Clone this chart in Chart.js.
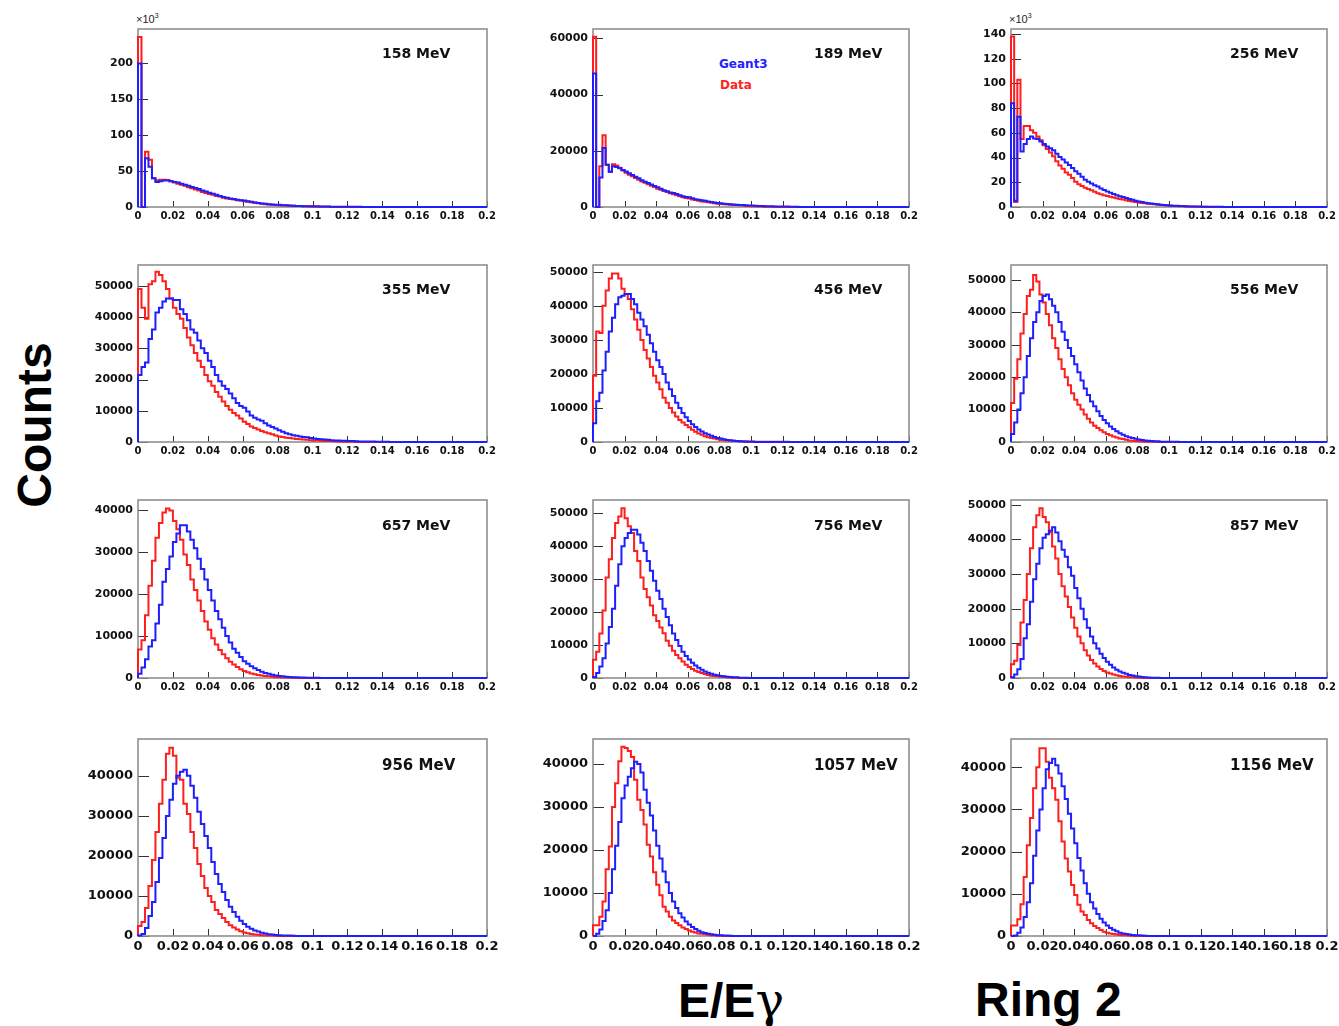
<!DOCTYPE html>
<html><head><meta charset="utf-8">
<script src="https://cdn.jsdelivr.net/npm/chart.js@4.4.1/dist/chart.umd.min.js"></script>
<style>
html,body{margin:0;padding:0;background:#fff;}
#page{position:relative;width:1339px;height:1026px;overflow:hidden;background:#fff;}
canvas{position:absolute;}
.lbl{position:absolute;font-family:'DejaVu Sans',sans-serif;font-weight:bold;color:#111;white-space:nowrap;line-height:1;}
.big{position:absolute;font-family:'Liberation Sans',Arial,sans-serif;font-weight:bold;color:#000;white-space:nowrap;line-height:1;font-size:48px;}
.greek{font-family:'DejaVu Serif',serif;font-weight:normal;}
.exp{position:absolute;font-family:'Liberation Sans',Arial,sans-serif;font-size:11px;color:#222;line-height:1;white-space:nowrap;}
.exp sup{font-size:7px;vertical-align:top;position:relative;top:-2px;}
</style></head>
<body><div id="page">
<div class="big" id="counts" style="left:35px;top:425px;transform:translate(-50%,-50%) rotate(-90deg);">Counts</div>
<div class="big" id="xtitle" style="left:678px;top:976px;">E/E<span class="greek">γ</span></div>
<div class="big" id="ring" style="left:975px;top:976px;">Ring 2</div>
<div class="lbl" style="left:719px;top:58px;font-size:12px;color:#2323ff;">Geant3</div>
<div class="lbl" style="left:720px;top:79px;font-size:12px;color:#ff2323;">Data</div>
<div class="exp" style="left:136px;top:14px;">×10<sup>3</sup></div>
<div class="exp" style="left:1009px;top:14px;">×10<sup>3</sup></div>
</div>
<script>
// ---------------- data ----------------
const BIN_WIDTH = 0.002;
const X_MAX = 0.2;
const xTickValues = [0, 0.02, 0.04, 0.06, 0.08, 0.1, 0.12, 0.14, 0.16, 0.18, 0.2];
const energyLabels = ['158 MeV','189 MeV','256 MeV','355 MeV','456 MeV','556 MeV','657 MeV','756 MeV','857 MeV','956 MeV','1057 MeV','1156 MeV'];

// units: x10^3 counts for 158 and 256 MeV, counts otherwise
const data158 = [237,0,77,66,40,37,38,38,37.5,36,34,32.5,31,29.5,27.5,26,24.5,23,21,19.5,18,17,15.5,14.5,13,12,11,10.5,9.5,9,8,7.3,6.6,5.8,5.2,4.5,4,3.6,3.2,2.8,2.5,2.3,2.1,1.9,1.7,1.5,1.3,1.1,0.9,0.7,0.5,0.4,0.3,0.25,0.2,0.15,0.1,0.1,0.05,0];
const g3_158 = [200,0,68,56,40,35,36,37,37,36,35,34,32.5,31,29.5,28,26.5,25,23,21.5,20,18.5,17,15.5,14,13,12,11,10.2,9.5,9,8,7.2,6.4,5.7,5,4.4,3.9,3.5,3.2,3,2.6,2.3,2,1.7,1.5,1.3,1.2,1.1,1,1,0.9,0.8,0.7,0.6,0.5,0.4,0.35,0.3,0.3,0.3,0.25,0.2,0.2,0.1,0];

const data189 = [60500,0,14500,25500,15000,12500,15200,14800,14000,13000,12200,11500,10900,10300,9700,9100,8600,8100,7600,7100,6500,6100,5700,5300,4900,4500,4200,3800,3500,3200,3000,2700,2500,2200,2000,1900,1700,1500,1300,1200,1100,1000,900,800,750,700,600,500,400,350,300,250,200,150,100,80,60,50,40,30,20,0];
const g3_189 = [47500,0,10500,21000,15000,12500,14500,14200,13800,13200,12600,12000,11400,10800,10200,9500,9000,8500,8000,7500,7000,6500,6000,5600,5200,5000,4600,4200,3800,3600,3500,3100,2800,2600,2400,2200,2000,1800,1600,1400,1300,1200,1100,1000,900,800,750,700,600,550,500,450,400,350,300,300,250,200,200,200,150,150,100,100,80,0];

const data256 = [138,4,103,55,65.5,65.5,62,60,57,54,50,47,44,41,37,33.5,31,28,26,23.5,20.5,18.5,17,15.5,14.5,13.5,12.3,11.2,10.4,9.6,9,8.3,7.6,7,6.4,6,5.4,4.9,4.4,4,3.7,3.3,3,2.6,2.4,2.2,1.9,1.6,1.4,1.2,1,0.9,0.8,0.7,0.6,0.5,0.4,0.35,0.3,0.25,0.2,0.15,0.1,0.1,0.05,0];
const g3_256 = [84,5,73,45,51,55,57,55.5,55,53,51,49,47.5,46,43,40.5,38.5,36,34,31.5,29,27,24.5,22,20.5,19,17.5,16.5,15,13.8,12.5,11.5,10.5,9.5,8.7,8,7.2,6.5,5.8,5.1,4.5,4,3.5,3.1,2.8,2.5,2.2,1.9,1.7,1.5,1.3,1.1,1,0.9,0.8,0.6,0.5,0.45,0.4,0.35,0.3,0.3,0.25,0.2,0.2,0.2,0.15,0.1,0];

const data355 = [49000,43000,39500,50500,51500,54500,53500,51500,49000,46000,43000,41000,39500,36500,33500,31000,28500,26000,24000,21500,19500,18000,16000,14500,13000,11500,10300,9300,8500,7500,6500,5800,5000,4500,4000,3500,3100,2800,2500,2100,1800,1600,1400,1300,1100,1000,900,800,700,600,500,450,400,350,300,300,250,200,150,100,100,100,50,0];
const g3_355 = [21500,24000,25500,33000,36000,41500,43000,45000,46000,46000,45500,45500,42500,41000,39000,36000,35000,32500,30000,28500,26000,24000,21500,19500,18000,17000,15500,14000,12500,11500,11000,9800,8500,7800,7200,6800,6000,5300,4800,4300,3800,3300,2800,2500,2200,2000,1800,1600,1500,1300,1100,1000,900,800,700,600,500,450,400,400,350,300,250,200,200,200,150,150,100,100,100,50,0];

const data456 = [19500,32500,32000,40000,44500,48000,49500,49500,48000,45000,43500,42000,39000,36000,33000,30000,27000,24500,22000,19500,17500,15500,13000,11500,10000,8700,7500,6500,5700,5000,4300,3600,3000,2500,2100,1700,1400,1200,1000,800,600,500,450,400,350,300,250,200,200,150,150,100,100,100,100,80,60,50,50,50,100,50,0];
const g3_456 = [5500,12000,14500,21000,26500,32500,36500,40500,42500,43000,43500,43500,42000,40500,38000,36000,34000,31500,29000,26500,24000,22000,20000,17500,15500,13500,11500,10000,8500,7300,6200,5200,4400,3700,3100,2600,2200,1800,1500,1200,1000,800,600,500,400,300,200,150,100,100,50,0];

const data556 = [12000,19500,25500,33500,39500,45000,47000,51500,49500,45500,43000,39500,36000,32000,29000,25500,22500,20000,17500,15000,13000,11500,10000,8500,7200,6000,5000,4300,3600,3000,2500,2100,1700,1400,1100,900,700,500,400,300,200,150,100,100,50,50,0];
const g3_556 = [2500,6000,10000,15000,20000,26500,32000,37000,40000,43500,45000,45500,44000,42000,40000,37000,34000,31500,29000,26500,24000,21500,19000,16500,14500,12500,11000,9500,8000,6800,5800,4800,4000,3300,2700,2200,1800,1500,1200,1000,800,600,500,400,300,200,200,100,100,100,50,50,50,0];

const data657 = [6800,9000,15000,22000,28000,33500,37000,39500,40500,40000,37500,35500,33000,29500,27000,23500,21000,18500,16000,13500,11500,9500,8000,6700,5700,4700,3900,3200,2600,2100,1700,1400,1100,900,700,600,500,400,300,200,150,100,100,50,50,0];
const g3_657 = [1000,2500,4500,7500,9000,13000,17500,23000,26000,29000,32500,34500,36500,36500,35000,33000,31000,28500,26000,23500,21000,18500,16000,14000,12000,10000,8500,7000,6000,5000,4000,3400,2800,2300,1900,1500,1200,1000,800,600,500,400,300,250,200,150,100,100,50,50,50,50,0];

const data756 = [5500,8000,13500,20500,30500,36000,42500,47000,49000,51500,48500,46000,44000,38500,35500,30500,27000,24500,22000,19000,17300,15300,13600,11300,9800,8300,7000,6000,5000,4000,3300,2700,2200,1800,1500,1200,900,700,600,500,400,300,200,150,100,50,0];
const g3_756 = [300,1500,3500,6000,10500,15500,21000,28000,34500,40000,42500,44000,45000,45000,43500,41000,38500,35500,32500,29500,26500,24000,21000,18500,16000,13500,11500,9700,8000,6700,5600,4600,3800,3100,2500,2000,1600,1300,1000,800,600,500,400,300,200,200,100,100,50,0];

const data857 = [4000,5000,9500,16000,22500,30000,37500,43500,47000,49000,46500,45000,42000,38000,34500,30000,26500,23500,20500,17500,14500,12000,10000,8000,6500,5200,4200,3300,2600,2000,1600,1300,1000,800,600,450,350,250,200,150,100,50,0];
const g3_857 = [200,1000,2500,5500,11500,15500,22000,28500,33000,37500,40500,41500,42500,43500,42000,39500,37000,35000,32000,29500,26000,23000,20000,17000,14500,12000,10000,8500,7000,5800,4700,3800,3000,2400,1900,1500,1200,900,700,500,400,300,200,150,100,100,50,0];

const data956 = [2500,3500,7000,12500,19000,26000,33000,39000,45500,47000,45000,39500,39000,33000,30500,26000,22000,18000,15000,12000,10000,8500,6500,5500,4500,3500,2700,2100,1600,1200,900,700,500,400,300,200,150,100,100,50,0];
const g3_956 = [100,500,2000,5000,8500,13500,19500,24500,30000,34000,38000,40000,41000,41500,40000,37500,34500,31000,28000,25000,22000,18500,15500,13000,11000,9000,7300,6000,4800,3800,3000,2300,1800,1400,1100,800,600,450,350,250,200,150,100,100,50,0];

const data1057 = [2500,2500,4500,8000,15500,20800,30000,35500,40600,44000,43700,43000,41600,36300,31700,29300,25900,21200,18500,14800,11900,9500,6800,5700,4500,3600,3000,2500,2000,1600,1300,1000,800,600,500,400,300,200,150,100,50,0];
const g3_1057 = [0,500,1500,3500,6000,10000,15500,21000,26500,32000,35000,37000,39000,40500,40000,38000,34000,31000,28000,24500,21000,18000,15000,12500,10000,8000,6500,5300,4300,3400,2700,2100,1600,1200,900,700,500,400,300,200,150,100,100,50,0];

const data1156 = [2500,2500,4000,7500,14000,21500,28000,35000,40000,44500,44500,41300,37500,35000,32300,27200,22400,18400,15300,12100,9700,7400,5800,5000,3800,3000,2400,1900,1400,1000,800,600,450,350,250,200,150,100,50,0];
const g3_1156 = [0,100,800,2000,4500,8000,12500,19000,25000,30000,35000,39500,41000,42000,40500,38500,35500,32500,29000,25500,22000,18500,15500,12500,10000,8000,6500,5200,4100,3200,2500,1900,1500,1100,800,600,450,350,250,200,150,100,50,0];

const yMaxes = [248, 63300, 144, 56700, 52000, 54600, 42500, 54000, 51400, 49200, 45800, 46700];
const yTicks158 = [0, 50, 100, 150, 200];
const yTicks189 = [0, 20000, 40000, 60000];
const yTicks256 = [0, 20, 40, 60, 80, 100, 120, 140];
const yTicks10k = [0, 10000, 20000, 30000, 40000, 50000];

const dataSeries = [data158, data189, data256, data355, data456, data556, data657, data756, data857, data956, data1057, data1156];
const geantSeries = [g3_158, g3_189, g3_256, g3_355, g3_456, g3_556, g3_657, g3_756, g3_857, g3_956, g3_1057, g3_1156];
const yTickSets = [yTicks158, yTicks189, yTicks256, yTicks10k, yTicks10k, yTicks10k, yTicks10k, yTicks10k, yTicks10k, yTicks10k, yTicks10k, yTicks10k];

// ---------------- layout / style ----------------
const colFrames = [[138, 487], [593, 909], [1011, 1327]];
const rowFrames = [[29, 207], [265, 442], [500, 678], [739, 936]];
const labelLeft = [382, 814, 1230];
const labelBaseline = [58, 294, 530, 771];
const RED = '#ff1e1e', BLUE = '#1e1eff';
const FONT = "'DejaVu Sans', sans-serif";

function histPoints(values) {
  const pts = [{x: 0, y: 0}];
  values.forEach((v, i) => pts.push({x: i * BIN_WIDTH, y: v}));
  pts.push({x: X_MAX, y: values[values.length - 1]});
  return pts;
}

const frameTicks = {
  id: 'frameTicks',
  beforeDatasetsDraw(chart, args, opts) {
    const {ctx, chartArea: a, scales: {x, y}} = chart;
    ctx.save();
    ctx.strokeStyle = '#333';
    ctx.lineWidth = 1;
    ctx.beginPath();
    x.ticks.forEach(t => {
      const px = Math.round(x.getPixelForValue(t.value)) + 0.5;
      ctx.moveTo(px, a.bottom); ctx.lineTo(px, a.bottom - opts.xLen);
    });
    y.ticks.forEach(t => {
      const py = Math.round(y.getPixelForValue(t.value)) + 0.5;
      ctx.moveTo(a.left, py); ctx.lineTo(a.left + opts.yLen, py);
    });
    ctx.stroke();
    ctx.strokeStyle = '#8f8f8f';
    ctx.lineWidth = 1.6;
    ctx.strokeRect(a.left, a.top, a.right - a.left, a.bottom - a.top);
    ctx.restore();
  }
};

const page = document.getElementById('page');

function makePanel(i) {
  const col = i % 3, row = Math.floor(i / 3);
  const [fl, fr] = colFrames[col];
  const [ft, fb] = rowFrames[row];
  const big = row === 3;
  const yW = 64, xH = big ? 22 : 18, pad = 16;
  const left = fl - pad - yW, top = ft - pad;
  const w = fr + pad - left, h = fb + xH + pad - top;
  const cv = document.createElement('canvas');
  cv.width = w; cv.height = h;
  cv.style.left = left + 'px'; cv.style.top = top + 'px';
  cv.style.width = w + 'px'; cv.style.height = h + 'px';
  page.appendChild(cv);

  const yMax = yMaxes[i];
  const yTicks = yTickSets[i].filter(v => v <= yMax);

  new Chart(cv, {
    type: 'line',
    data: {
      datasets: [
        {label: 'Geant3', data: histPoints(geantSeries[i]), borderColor: BLUE, borderWidth: 2, stepped: true, pointRadius: 0, fill: false, clip: 4},
        {label: 'Data', data: histPoints(dataSeries[i]), borderColor: RED, borderWidth: 2, stepped: true, pointRadius: 0, fill: false, clip: 4}
      ]
    },
    options: {
      responsive: false, animation: false, devicePixelRatio: 1,
      layout: {padding: pad},
      events: [],
      plugins: {
        legend: {display: false}, tooltip: {enabled: false},
        frameTicks: {xLen: big ? 7 : 6, yLen: big ? 11 : 10}
      },
      scales: {
        x: {
          type: 'linear', min: 0, max: X_MAX,
          grid: {display: false, drawTicks: false}, border: {display: false},
          afterBuildTicks: s => { s.ticks = xTickValues.map(v => ({value: v})); },
          afterFit: s => { s.height = xH; s.paddingLeft = 0; s.paddingRight = 0; },
          ticks: {
            autoSkip: false, maxRotation: 0, minRotation: 0, padding: 3, color: '#111',
            font: {family: FONT, size: big ? 13 : 10, weight: 'bold'},
            callback: v => String(Math.round(v * 100) / 100)
          }
        },
        y: {
          type: 'linear', min: 0, max: yMax,
          grid: {display: false, drawTicks: false}, border: {display: false},
          afterBuildTicks: s => { s.ticks = yTicks.map(v => ({value: v})); },
          afterFit: s => { s.width = yW; s.paddingTop = 0; s.paddingBottom = 0; },
          ticks: {
            autoSkip: false, padding: 5, color: '#111',
            font: {family: FONT, size: big ? 13 : 11, weight: 'bold'},
            callback: v => String(v)
          }
        }
      }
    },
    plugins: [frameTicks]
  });

  const lab = document.createElement('div');
  lab.className = 'lbl';
  const fs = big ? 15 : 14;
  lab.style.fontSize = fs + 'px';
  lab.style.left = labelLeft[col] + 'px';
  lab.style.top = (labelBaseline[row] - 0.846 * fs) + 'px';
  lab.textContent = energyLabels[i];
  page.appendChild(lab);
}

for (let i = 0; i < 12; i++) makePanel(i);
</script>
</body></html>
